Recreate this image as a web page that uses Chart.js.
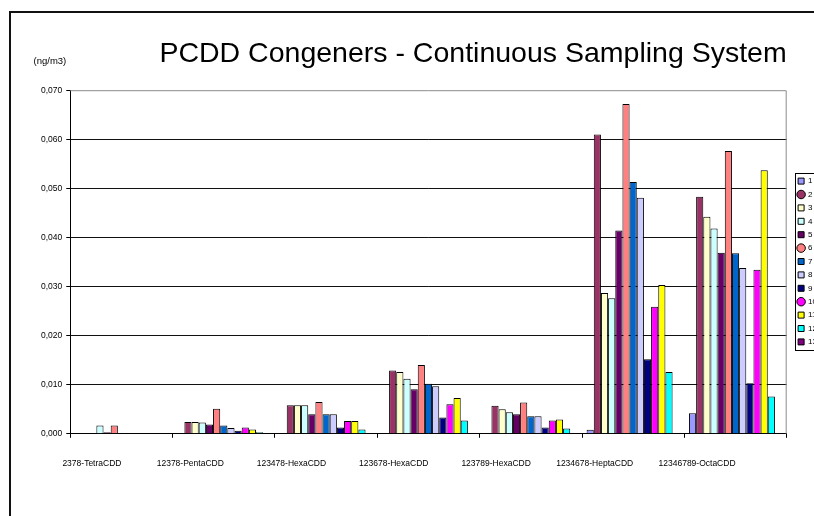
<!DOCTYPE html>
<html>
<head>
<meta charset="utf-8">
<title>PCDD Congeners</title>
<script src="https://cdn.jsdelivr.net/npm/chart.js@4.4.1/dist/chart.umd.min.js"></script>
<style>
  html, body { margin: 0; padding: 0; background: #fff; overflow: hidden; }
  .frame {
    position: absolute; left: 9px; top: 11px;
    width: 880px; height: 560px;
    border-left: 2px solid #111; border-top: 2px solid #111;
  }
  canvas { display: block; }
</style>
</head>
<body>
<div class="frame"><canvas id="chart" width="830" height="510"></canvas></div>
<script>
const categories = ['2378-TetraCDD', '12378-PentaCDD', '123478-HexaCDD', '123678-HexaCDD',
                    '123789-HexaCDD', '1234678-HeptaCDD', '12346789-OctaCDD'];

const seriesNames = ['1', '2', '3', '4', '5', '6', '7', '8', '9', '10', '11', '12', '13'];

// ng/m3, one value per congener
const s1  = [0,      0,      0,      0,      0,      0.0008, 0.0042];
const s2  = [0,      0.0024, 0.0058, 0.0129, 0.0057, 0.0610, 0.0483];
const s3  = [0,      0.0024, 0.0058, 0.0126, 0.0050, 0.0287, 0.0442];
const s4  = [0.0017, 0.0023, 0.0058, 0.0112, 0.0044, 0.0276, 0.0418];
const s5  = [0.0003, 0.0019, 0.0040, 0.0091, 0.0040, 0.0414, 0.0369];
const s6  = [0.0017, 0.0051, 0.0065, 0.0140, 0.0064, 0.0672, 0.0576];
const s7  = [0,      0.0017, 0.0040, 0.0102, 0.0036, 0.0513, 0.0368];
const s8  = [0,      0.0012, 0.0040, 0.0097, 0.0036, 0.0481, 0.0338];
const s9  = [0,      0.0006, 0.0013, 0.0033, 0.0013, 0.0152, 0.0103];
const s10 = [0,      0.0013, 0.0026, 0.0060, 0.0027, 0.0259, 0.0334];
const s11 = [0,      0.0009, 0.0026, 0.0073, 0.0029, 0.0303, 0.0537];
const s12 = [0,      0.0003, 0.0009, 0.0027, 0.0011, 0.0126, 0.0076];
const s13 = [0,      0,      0,      0,      0,      0,      0];
const seriesValues = [s1, s2, s3, s4, s5, s6, s7, s8, s9, s10, s11, s12, s13];

const yMax = 0.07;
const yStep = 0.01;

const colors = ['#9999FF', '#993366', '#FFFFCC', '#CCFFFF', '#660066', '#FF8080', '#0066CC',
                '#CCCCFF', '#000080', '#FF00FF', '#FFFF00', '#00FFFF', '#800080'];
const markers = ['rect', 'circle', 'rect', 'rect', 'rect', 'circle', 'rect',
                 'rect', 'rect', 'circle', 'rect', 'rect', 'rect'];

const FONT = '"Liberation Sans", Arial, sans-serif';

// bits excel draws that chart.js doesn't: plot frame, unit label, legend box
const extras = {
    id: 'extras',
    afterLayout(chart) {
        // excel keeps the legend a little off the plot and level with its middle
        chart.legend.left += 6;
        chart.legend.top += 10;
        chart.legend.bottom += 10;
    },
    afterDraw(chart) {
        const { ctx, chartArea: a, legend } = chart;
        ctx.save();
        ctx.strokeStyle = '#8c8c8c';
        ctx.lineWidth = 1;
        ctx.beginPath();
        ctx.moveTo(a.left, a.top + 0.5);
        ctx.lineTo(a.right - 0.5, a.top + 0.5);
        ctx.lineTo(a.right - 0.5, a.bottom);
        ctx.stroke();

        ctx.fillStyle = '#000';
        ctx.font = '9.5px ' + FONT;
        ctx.textAlign = 'right';
        ctx.textBaseline = 'middle';
        ctx.fillText('(ng/m3)', a.left - 4, a.top - 29);

        const boxes = legend.legendHitBoxes;
        const first = boxes[0];
        const last = boxes[boxes.length - 1];
        const top = Math.round(first.top - 4) + 0.5;
        const bottom = Math.round(last.top + last.height + 4) + 0.5;
        ctx.strokeStyle = '#000';
        ctx.strokeRect(Math.round(first.left - 3) + 0.5, top, 200, bottom - top);
        ctx.restore();
    }
};

const datasets = seriesValues.map((values, i) => ({
    label: seriesNames[i],
    data: values,
    backgroundColor: colors[i],
    borderColor: '#000',
    borderWidth: 1,
    pointStyle: markers[i],
    categoryPercentage: 0.91,
    barPercentage: 1.0,
}));

new Chart(document.getElementById('chart'), {
    type: 'bar',
    data: { labels: categories, datasets: datasets },
    plugins: [extras],
    options: {
        responsive: false,
        animation: false,
        layout: { padding: { left: 26, right: 20, top: 0, bottom: 33 } },
        plugins: {
            title: {
                display: true,
                text: 'PCDD Congeners - Continuous Sampling System',
                align: 'end',
                fullSize: false,
                color: '#000',
                font: { family: FONT, size: 28.5, weight: 'normal' },
                padding: { top: 24, bottom: 19 },
            },
            legend: {
                position: 'right',
                labels: {
                    usePointStyle: true,
                    boxWidth: 6,
                    boxHeight: 6,
                    padding: 5.4,
                    color: '#000',
                    font: { family: FONT, size: 8 },
                },
            },
            tooltip: { enabled: false },
        },
        scales: {
            x: {
                grid: { drawOnChartArea: false, tickLength: 4, color: '#000' },
                border: { color: '#000', width: 1 },
                ticks: {
                    align: 'end',
                    padding: 21,
                    maxRotation: 0,
                    autoSkip: false,
                    color: '#000',
                    font: { family: FONT, size: 8.5 },
                },
            },
            y: {
                min: 0,
                max: yMax,
                grid: {
                    tickLength: 4,
                    color: ctx => (ctx.tick && ctx.tick.value >= yMax) ? 'rgba(0,0,0,0)' : '#111',
                    tickColor: '#000',
                },
                border: { color: '#000', width: 1 },
                ticks: {
                    stepSize: yStep,
                    padding: 4,
                    color: '#000',
                    font: { family: FONT, size: 8.5 },
                    callback: v => v.toFixed(3).replace('.', ','),
                },
            },
        },
    },
});
</script>
</body>
</html>
